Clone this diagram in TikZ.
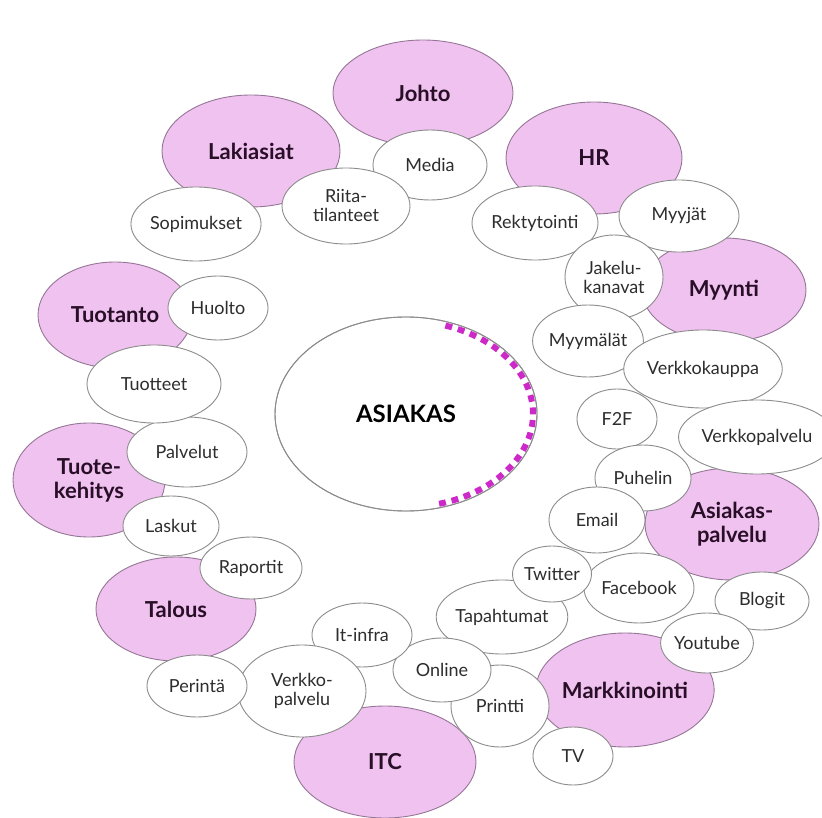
\documentclass[tikz,border=0pt]{standalone}
\usepackage{fontspec}
\setmainfont{Lato}
\usepackage{xcolor}
\usepackage{tikz}
\usetikzlibrary{shapes.geometric}

\definecolor{deptpink}{RGB}{240,194,240}
\definecolor{deptline}{RGB}{150,118,150}
\definecolor{depttext}{RGB}{40,14,38}
\definecolor{subline}{RGB}{140,140,140}
\definecolor{subtext}{RGB}{45,45,45}
\definecolor{edgepink}{RGB}{205,40,200}

\begin{document}
\begin{tikzpicture}[x=1pt,y=-1pt,
    dept/.style 2 args={ellipse,draw=deptline,fill=deptpink,line width=0.9pt,inner sep=0pt,
      minimum width=#1pt,minimum height=#2pt,align=center,text=depttext,
      font=\bfseries\fontsize{22}{24}\selectfont},
    sub/.style 2 args={ellipse,draw=subline,fill=white,line width=0.9pt,inner sep=0pt,
      minimum width=#1pt,minimum height=#2pt,align=center,text=subtext,
      font=\fontsize{18}{19}\selectfont}]
    % page
    \fill[white] (0,0) rectangle (822,818);
    \useasboundingbox (0,0) rectangle (822,818);
    % departments (pink)
    \node[dept={180}{106}] (johto) at (423,93) {Johto};
    \node[dept={178}{112}] (lakiasiat) at (251,151) {Lakiasiat};
    \node[dept={176}{112}] (hr) at (594,158) {HR};
    \node[dept={164}{104}] (myynti) at (724,290) {Myynti};
    \node[dept={154}{106}] (tuotanto) at (115,315) {Tuotanto};
    \node[dept={152}{114}] (tuotekehitys) at (89,480) {Tuote-\\kehitys};
    \node[dept={160}{104}] (talous) at (176,609) {Talous};
    \node[dept={182}{112}] (itc) at (385,762) {ITC};
    \node[dept={168}{114}] (markkinointi) at (625,690) {Markkinointi};
    \node[dept={174}{112}] (asiakaspalvelu) at (732,524) {Asiakas-\\palvelu};
    % the customer in the middle
    \node[sub={262}{194},font=\bfseries\fontsize{24}{26}\selectfont,text=black] (asiakas) at (406,414) {ASIAKAS};
    \begin{scope}
      \clip (406,414) ellipse (130 and 96);
      \draw[edgepink,line width=10pt,dash pattern=on 7pt off 6pt]
        (406,414) ++(-72:129 and 95) arc[start angle=-72,end angle=76,x radius=129,y radius=95];
    \end{scope}
    \draw[subline,line width=0.9pt] (asiakas.center) ellipse (131 and 97);
    % contact points (white)
    \node[sub={114}{70}] (media) at (430,165) {Media};
    \node[sub={128}{76}] (riita) at (346,206) {Riita-\\tilanteet};
    \node[sub={124}{74}] (sopimukset) at (196,224) {Sopimukset};
    \node[sub={126}{74}] (rekrytointi) at (535,223) {Rektytointi};
    \node[sub={120}{72}] (myyjat) at (679,216) {Myyjät};
    \node[sub={98}{84}] (jakelu) at (614,277) {Jakelu-\\kanavat};
    \node[sub={110}{72}] (myymalat) at (588,341) {Myymälät};
    \node[sub={146}{78}] (verkkokauppa) at (703,369) {Verkkokauppa};
    \node[sub={80}{60}] (f2f) at (617,419) {F2F};
    \node[sub={136}{74}] (verkkopalvelu) at (757,437) {Verkkopalvelu};
    \node[sub={96}{66}] (puhelin) at (643,478) {Puhelin};
    \node[sub={96}{66}] (email) at (597,520) {Email};
    \node[sub={110}{70}] (facebook) at (639,588) {Facebook};
    \node[sub={114}{74}] (tapahtumat) at (502,617) {Tapahtumat};
    \node[sub={78}{56}] (twitter) at (552,574) {Twitter};
    \node[sub={94}{58}] (blogit) at (762,601) {Blogit};
    \node[sub={92}{60}] (youtube) at (707,643) {Youtube};
    \node[sub={98}{82}] (printti) at (500,706) {Printti};
    \node[sub={98}{64}] (online) at (442,670) {Online};
    \node[sub={80}{58}] (tv) at (573,756) {TV};
    \node[sub={100}{64}] (itinfra) at (362,635) {It-infra};
    \node[sub={128}{92}] (verkkopalvelu2) at (302,691) {Verkko-\\palvelu};
    \node[sub={100}{62}] (perinta) at (197,686) {Perintä};
    \node[sub={102}{62}] (raportit) at (251,568) {Raportit};
    \node[sub={96}{60}] (laskut) at (171,526) {Laskut};
    \node[sub={120}{70}] (palvelut) at (187,452) {Palvelut};
    \node[sub={134}{78}] (tuotteet) at (154,384) {Tuotteet};
    \node[sub={100}{64}] (huolto) at (218,308) {Huolto};
  \end{tikzpicture}
\end{document}
